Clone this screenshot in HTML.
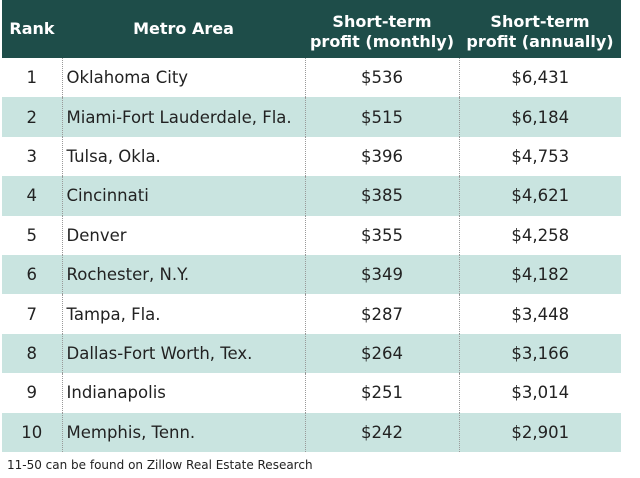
<!DOCTYPE html>
<html><head><style>
body{margin:0;width:640px;height:478px;background:#fff;font-family:Verdana,"DejaVu Sans",sans-serif;position:relative;overflow:hidden}
table{position:absolute;left:2px;top:0;width:619px;border-collapse:collapse;table-layout:fixed}
th{background:#1e4d49;color:#fff;font-weight:bold;font-size:16px;height:58px;padding:0;line-height:20px}
th.t{padding-top:6px;height:52px}
td{height:39.4px;padding:0;font-size:16.5px;color:#222;border-left:1px dotted #999}
td:first-child{border-left:none;text-align:center}
td.c{text-align:center}
td.m{padding-left:4px}
tr.s td{background:#c9e4e0}
.f{position:absolute;left:7px;top:458px;font-size:12px;color:#222}
</style></head><body>
<table>
<colgroup><col style="width:60px"><col style="width:243px"><col style="width:154px"><col style="width:162px"></colgroup>
<tr><th>Rank</th><th>Metro Area</th><th class="t">Short-term<br>profit (monthly)</th><th class="t">Short-term<br>profit (annually)</th></tr>
<tr><td>1</td><td class="m">Oklahoma City</td><td class="c">$536</td><td class="c">$6,431</td></tr>
<tr class="s"><td>2</td><td class="m">Miami-Fort Lauderdale, Fla.</td><td class="c">$515</td><td class="c">$6,184</td></tr>
<tr><td>3</td><td class="m">Tulsa, Okla.</td><td class="c">$396</td><td class="c">$4,753</td></tr>
<tr class="s"><td>4</td><td class="m">Cincinnati</td><td class="c">$385</td><td class="c">$4,621</td></tr>
<tr><td>5</td><td class="m">Denver</td><td class="c">$355</td><td class="c">$4,258</td></tr>
<tr class="s"><td>6</td><td class="m">Rochester, N.Y.</td><td class="c">$349</td><td class="c">$4,182</td></tr>
<tr><td>7</td><td class="m">Tampa, Fla.</td><td class="c">$287</td><td class="c">$3,448</td></tr>
<tr class="s"><td>8</td><td class="m">Dallas-Fort Worth, Tex.</td><td class="c">$264</td><td class="c">$3,166</td></tr>
<tr><td>9</td><td class="m">Indianapolis</td><td class="c">$251</td><td class="c">$3,014</td></tr>
<tr class="s"><td>10</td><td class="m">Memphis, Tenn.</td><td class="c">$242</td><td class="c">$2,901</td></tr>
</table>
<div class="f">11-50 can be found on Zillow Real Estate Research</div>
</body></html>
